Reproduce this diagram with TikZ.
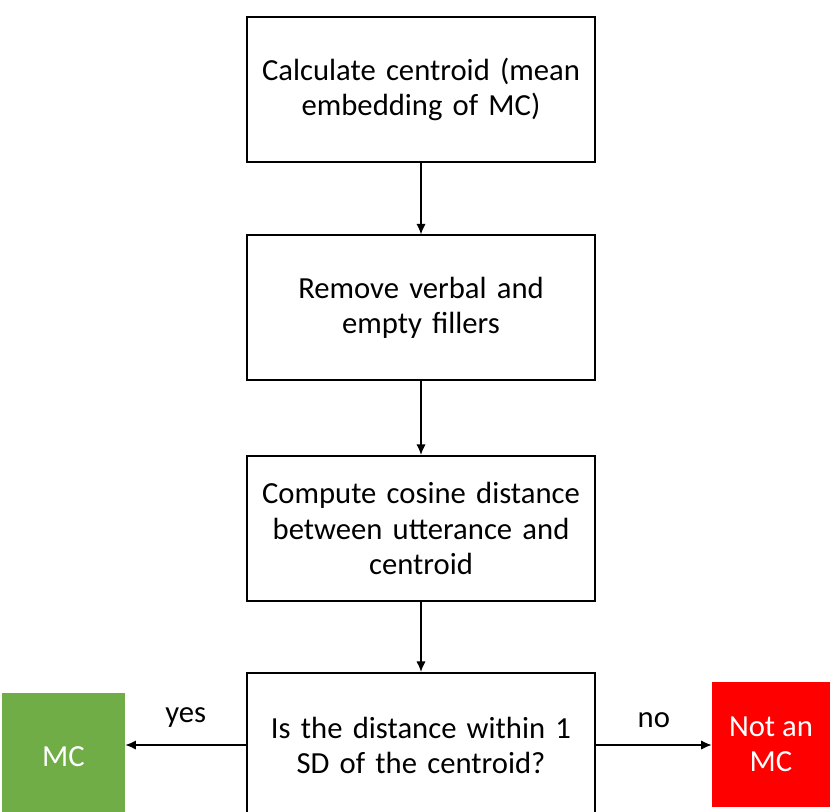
\documentclass[tikz,border=0pt]{standalone}
\usepackage{fontspec}
\setmainfont{Carlito}
\usetikzlibrary{arrows.meta}
\definecolor{mcgreen}{HTML}{70AD47}
\definecolor{mcred}{HTML}{FF0000}
\begin{document}
\begin{tikzpicture}[x=0.75pt,y=-0.75pt,
  every node/.style={font=\fontsize{23}{26.5}\selectfont},
  stepbox/.style={draw=black,line width=1.5pt,minimum width=348*0.75pt,minimum height=145*0.75pt,align=center,inner sep=0pt,text width=340*0.75pt},
  outbox/.style={draw=none,text=white,align=center,inner sep=0pt},
  conn/.style={line width=1.1pt,-{Latex[length=8pt,width=7pt]}}]
\useasboundingbox (0,0) rectangle (831,812);
\clip (0,0) rectangle (831,812);
\node[stepbox] (b1) at (421,89.5) {Calculate centroid (mean\\embedding of MC)};
\node[stepbox] (b2) at (421,308) {Remove verbal and\\empty fillers};
\node[stepbox] (b3) at (421,528.5) {Compute cosine distance\\between utterance and\\centroid};
\node[stepbox] (b4) at (421,745.5) {Is the distance within 1\\SD of the centroid?};
\node[outbox,fill=mcgreen,minimum width=123*0.75pt,minimum height=128*0.75pt] (mc) at (63.5,757) {MC};
\node[outbox,fill=mcred,minimum width=118*0.75pt,minimum height=125*0.75pt] (nmc) at (771,744.5) {Not an\\MC};
\draw[conn] (b1) -- (b2);
\draw[conn] (b2) -- (b3);
\draw[conn] (b3) -- (b4);
\draw[conn] (b4.west |- 0,745) -- (mc.east |- 0,745) node[midway,above=9pt] {yes};
\draw[conn] (b4.east |- 0,745) -- (nmc.west |- 0,745) node[midway,above=9pt] {no};
\end{tikzpicture}
\end{document}
